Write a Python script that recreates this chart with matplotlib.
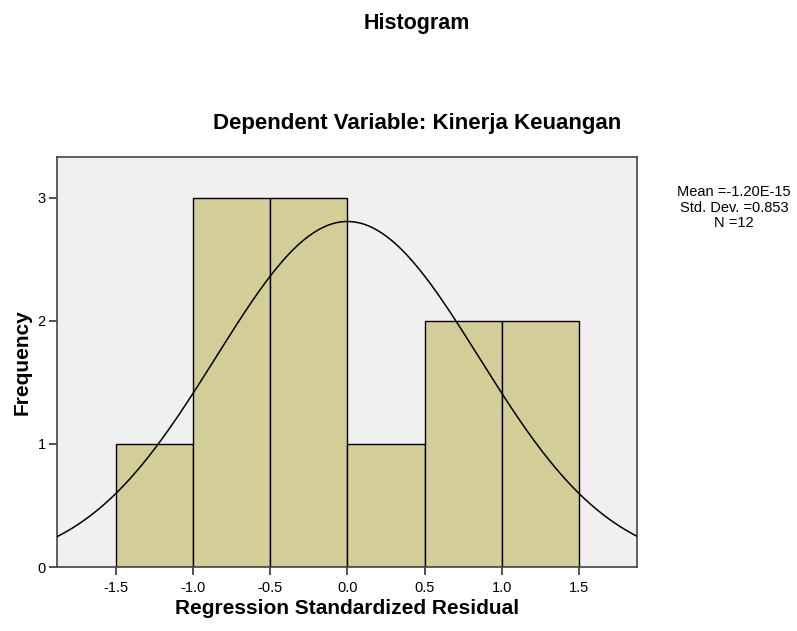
import numpy as np
import matplotlib
matplotlib.use("Agg")
import matplotlib.pyplot as plt

plt.rcParams['font.family'] = ['Liberation Sans', 'DejaVu Sans']

bin_edges = [-1.5, -1.0, -0.5, 0.0, 0.5, 1.0, 1.5]
counts = [1, 3, 3, 1, 2, 2]
mean = -1.20e-15
std = 0.853
n = 12
xticks = [-1.5, -1.0, -0.5, 0.0, 0.5, 1.0, 1.5]
yticks = [0, 1, 2, 3]

fig = plt.figure(figsize=(7.97, 6.31), dpi=100)
ax = fig.add_axes([0.0715, 0.1014, 0.7277, 0.6498])
ax.set_facecolor('#F0F0F0')

widths = np.diff(bin_edges)
ax.bar(bin_edges[:-1], counts, width=widths, align='edge', color='#D3CE97',
       edgecolor='black', linewidth=1.0, zorder=2)

xs = np.linspace(-1.9, 1.9, 400)
bw = widths[0]
ys = n * bw / (std * np.sqrt(2 * np.pi)) * np.exp(-0.5 * ((xs - mean) / std) ** 2)
ax.plot(xs, ys, color='black', linewidth=1.1, zorder=3)

ax.set_xlim(-1.882, 1.876)
ax.set_ylim(0, 3.33)
ax.set_xticks(xticks)
ax.set_xticklabels(['%.1f' % v for v in xticks])
ax.set_yticks(yticks)
ax.tick_params(direction='out', length=6, width=1.2, labelsize=10.5, colors='#333333',
               labelcolor='black')
ax.tick_params(axis='x', pad=4)
ax.tick_params(axis='y', pad=2)
for s in ax.spines.values():
    s.set_color('#444444')
    s.set_linewidth(1.2)

ax.set_xlabel('Regression Standardized Residual', fontsize=15, fontweight='bold', labelpad=3)
ax.set_ylabel('Frequency', fontsize=15, fontweight='bold', labelpad=4)

fig.text(0.523, 0.962, 'Histogram', ha='center', va='center', fontsize=15.5, fontweight='bold')
fig.text(0.523, 0.805, 'Dependent Variable: Kinerja Keuangan', ha='center', va='center',
         fontsize=16, fontweight='bold')

fig.text(0.921, 0.671, 'Mean =-1.20E-15\nStd. Dev. =0.853\nN =12', ha='center', va='center',
         fontsize=10.5, linespacing=1.1)

fig.savefig('out.png', dpi=100)
